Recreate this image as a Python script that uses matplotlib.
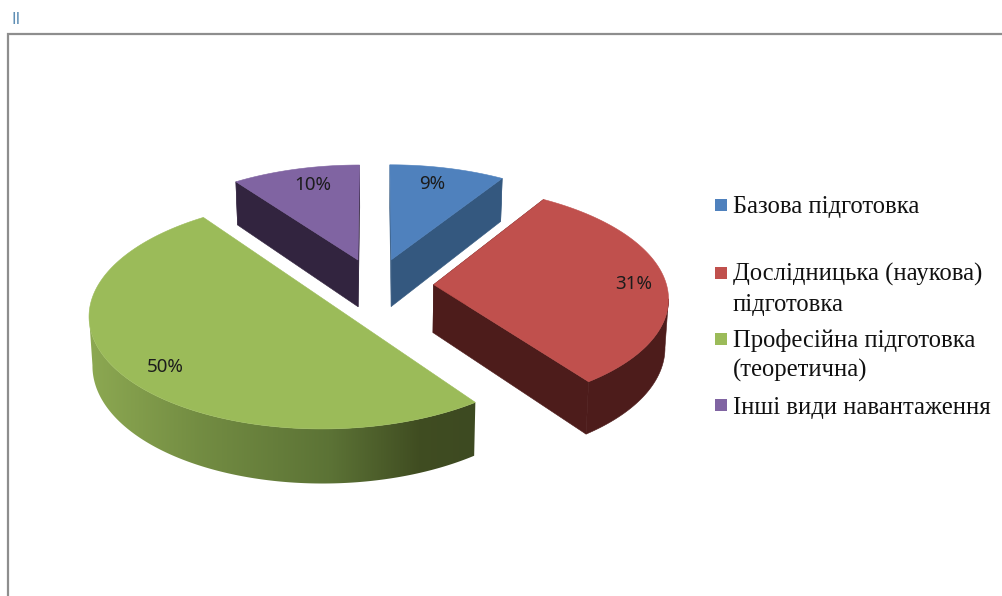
import numpy as np
import matplotlib
matplotlib.use("Agg")
import matplotlib.pyplot as plt
from matplotlib.patches import Polygon, Rectangle

# data
labels = ["Базова підготовка", "Дослідницька (наукова)\nпідготовка",
          "Професійна підготовка\n(теоретична)", "Інші види навантаження"]
values = [9, 31, 50, 10]
top_colors = ["#4f81bd", "#c0504d", "#9bbb59", "#8064a2"]
side_colors = ["#34587f", "#4d1c1b", None, "#32243f"]

# green wall gets a shading along x
green_stops_x = [90, 200, 330, 420, 476]
green_stops_rgb = [(0.55, 0.66, 0.32), (0.45, 0.55, 0.26), (0.36, 0.45, 0.21),
                   (0.25, 0.30, 0.13), (0.24, 0.29, 0.13)]

# projection of the pie, fitted by eye
CX, CY = 375.5, 285.5
SX, SY = 233, 110
PERSP = 0.105
EXPLODE = 0.25
DEPTH = 48
SHRINK = 0.988

label_pos = [(432, 184), (634, 284), (165, 367), (313, 185)]
legend_y = [205, 273, 339, 405]
text_y = [213, 281, 347, 414]


def project(x, y):
    w = 1 + PERSP * y
    return CX + SX * x / w, CY - SY * y / w, w


def wall_point(px, py, w):
    return CX + (px - CX) * SHRINK, py + DEPTH / w


fig = plt.figure(figsize=(10.02, 5.96), dpi=100)
ax = fig.add_axes([0, 0, 1, 1])
ax.axis("off")

# frame
ax.plot([8.5, 8.5, 1002], [596, 34, 34], color="#8e8e8e", lw=1.6, solid_joinstyle="miter")
ax.text(12, 20, "II", color="#5f8fb5", fontsize=12, family="Liberation Sans", va="center")

fractions = np.array(values) / sum(values) * 2 * np.pi
ends = np.cumsum(fractions)
starts = ends - fractions

# back slices first, green goes last
for i in [3, 0, 1, 2]:
    a0, a1 = starts[i], ends[i]
    mid = (a0 + a1) / 2
    ox, oy = EXPLODE * np.sin(mid), EXPLODE * np.cos(mid)
    theta = np.linspace(a0, a1, 240)
    px, py, w = project(ox + np.sin(theta), oy + np.cos(theta))
    ax_, ay_, aw = project(ox, oy)
    bx, by = wall_point(px, py, w)
    abx, aby = wall_point(ax_, ay_, aw)

    # only the front part of the rim, from the silhouette point on
    sil = np.argmax(np.abs(px - CX))
    front = py >= py[sil]
    wall = list(zip(px[front], py[front])) + list(zip(bx[front][::-1], by[front][::-1]))

    side = side_colors[i]
    if side:
        # cut faces
        for k in [0, -1]:
            ax.add_patch(Polygon([(ax_, ay_), (px[k], py[k]), (bx[k], by[k]), (abx, aby)],
                                 facecolor=side, edgecolor=side, lw=0.4))
        ax.add_patch(Polygon(wall, facecolor=side, edgecolor=side, lw=0.4))
    else:
        xs = np.linspace(px.min() - 2, px.max() + 2, 400)
        grad = np.stack([np.interp(xs, green_stops_x, [c[n] for c in green_stops_rgb])
                         for n in range(3)], axis=-1)[None, :, :]
        clip = Polygon(wall, transform=ax.transData, facecolor="none", edgecolor="none")
        ax.add_patch(clip)
        im = ax.imshow(grad, extent=(xs[0], xs[-1], by.max() + 2, min(py) - 2),
                       aspect="auto", interpolation="bilinear", zorder=1)
        im.set_clip_path(clip)
    # top
    pts = [(ax_, ay_)] + list(zip(px, py))
    ax.add_patch(Polygon(pts, facecolor=top_colors[i], edgecolor=top_colors[i], lw=0.4, zorder=1))

for v, (x, y) in zip(values, label_pos):
    ax.text(x, y, "%d%%" % v, ha="center", va="center", fontsize=13.5,
            family="Noto Sans", color="#1c1c1c")

# legend
for lab, c, ly, ty in zip(labels, top_colors, legend_y, text_y):
    ax.add_patch(Rectangle((715, ly - 6), 12, 12, facecolor=c, edgecolor="none"))
    for n, line in enumerate(lab.split("\n")):
        ax.text(733, ty + n * 29.5, line, fontsize=17.7, family="Liberation Serif",
                color="#111111", va="baseline")

ax.set_xlim(0, 1002)
ax.set_ylim(596, 0)
fig.savefig("out.png", dpi=100)
